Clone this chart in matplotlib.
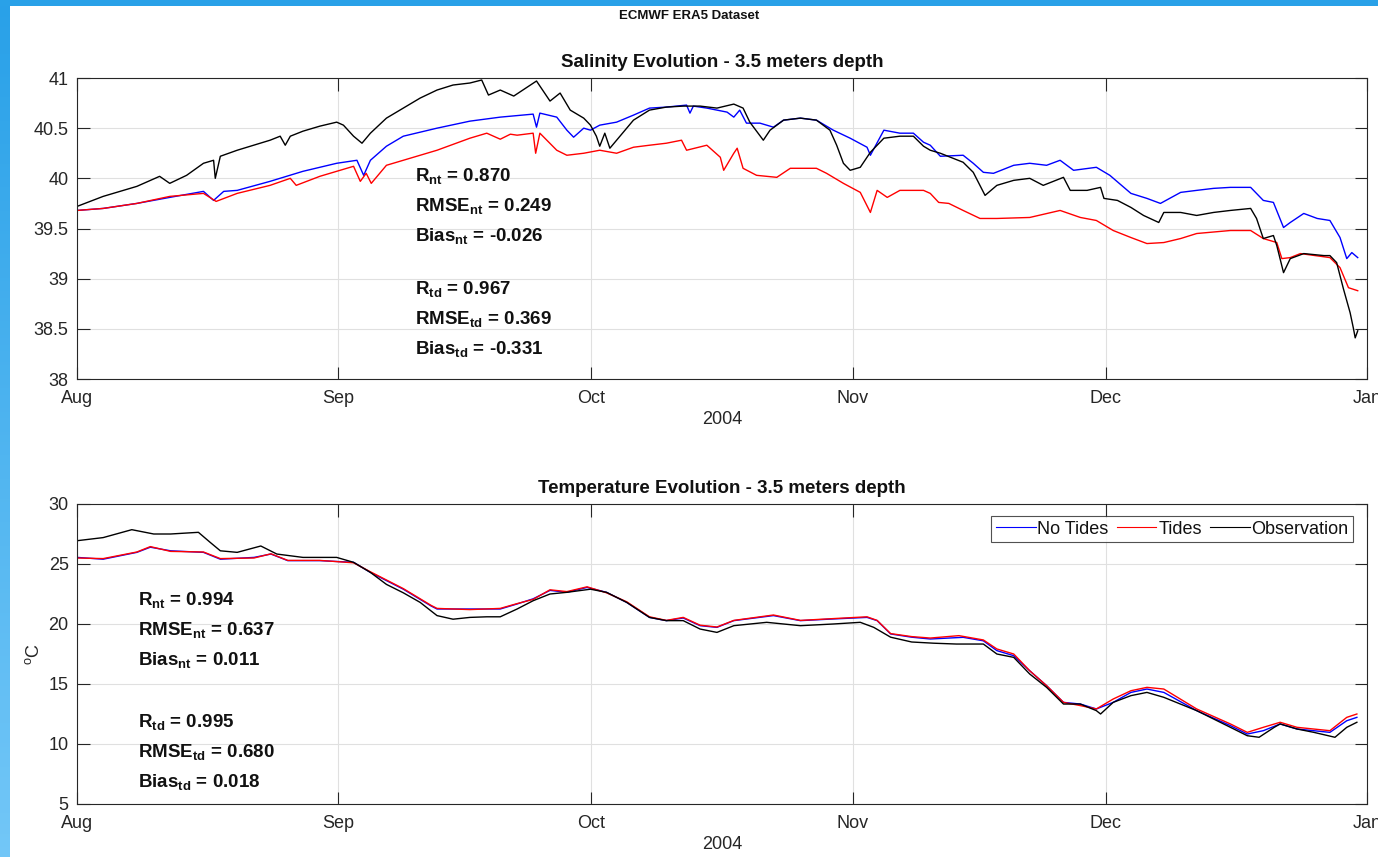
import matplotlib
matplotlib.use("Agg")
import matplotlib.pyplot as plt
import matplotlib.dates as mdates
import numpy as np
from datetime import datetime

# ---------------- data (days since 2004-08-01, value) ----------------
sal_obs_day = [0, 3.1, 7.1, 9.8, 11, 13, 15, 16.2, 16.4, 17, 19, 22.9, 24.1, 24.7, 25.3,
               26.8, 28.8, 30.8, 31.6, 32.8, 33.8, 34.8, 36.7, 38.7, 40.7, 42.7, 44.6,
               46.6, 48, 48.8, 50.2, 51.8, 54.5, 56.1, 57.3, 58.5, 60.1, 60.9, 61.6, 62,
               62.6, 63.2, 64.4, 66, 67.9, 69.9, 71.9, 73.9, 75.9, 77.9, 79, 79.8, 80.6,
               81.4, 82.2, 83.8, 85.8, 87.7, 89.3, 90.1, 90.9, 91.7, 92.9, 94.1, 95.7,
               97.6, 99.2, 100.4, 101.2, 102.4, 105.1, 106.3, 107.7, 109.1, 111.1, 113,
               114.6, 117, 117.8, 119.8, 121.4, 121.8, 123.4, 125, 126.5, 128.3, 128.9,
               130.9, 132.8, 134.8, 136.8, 139.2, 139.9, 140.7, 141.9, 142.3, 143.1,
               143.9, 145.5, 147.9, 148.6, 149.4, 150.2, 151, 151.4, 151.6, 151.9]
sal_obs = [39.72, 39.82, 39.92, 40.02, 39.95, 40.03, 40.15, 40.18, 40.00, 40.22, 40.28,
           40.38, 40.42, 40.33, 40.42, 40.47, 40.52, 40.56, 40.53, 40.42, 40.35, 40.45,
           40.60, 40.70, 40.80, 40.88, 40.93, 40.95, 40.98, 40.83, 40.88, 40.82, 40.97,
           40.77, 40.85, 40.68, 40.60, 40.53, 40.42, 40.32, 40.45, 40.30, 40.42, 40.58,
           40.68, 40.71, 40.72, 40.72, 40.70, 40.74, 40.70, 40.56, 40.47, 40.38, 40.48,
           40.58, 40.60, 40.58, 40.48, 40.33, 40.15, 40.08, 40.11, 40.26, 40.40, 40.42,
           40.42, 40.32, 40.28, 40.25, 40.16, 40.06, 39.83, 39.93, 39.98, 40.00, 39.93,
           40.01, 39.88, 39.88, 39.91, 39.80, 39.78, 39.71, 39.63, 39.56, 39.66, 39.66,
           39.63, 39.66, 39.68, 39.70, 39.60, 39.40, 39.43, 39.33, 39.06, 39.20, 39.25,
           39.23, 39.23, 39.16, 38.90, 38.66, 38.50, 38.41, 38.48]

sal_nt_day = [0, 3.1, 7.1, 11, 15, 16.2, 17.4, 19, 22.9, 26.8, 30.8, 33.2, 34, 34.8, 36.7,
              38.7, 42.7, 46.6, 50.2, 54.1, 54.5, 54.9, 56.9, 58.1, 58.9, 60.1, 60.9, 62,
              64, 66, 67.9, 69.9, 72.3, 72.7, 73.1, 74.7, 77.1, 77.9, 78.6, 79.4, 81,
              82.6, 83.8, 85.8, 87.7, 89.7, 91.7, 93.7, 94.1, 95.7, 97.6, 99.2, 100.4,
              101.2, 102.4, 105.1, 106.3, 107.5, 108.7, 111.1, 113, 115, 116.6, 118.2,
              120.9, 122.5, 125, 126.9, 128.5, 130.9, 132.8, 134.8, 136.8, 139.2, 140.7,
              141.9, 143.1, 143.9, 145.5, 147.1, 148.6, 149.8, 150.6, 151.2, 151.9]
sal_nt = [39.68, 39.70, 39.75, 39.81, 39.87, 39.78, 39.87, 39.88, 39.97, 40.07, 40.15,
          40.18, 40.03, 40.18, 40.32, 40.42, 40.50, 40.57, 40.61, 40.64, 40.51, 40.65,
          40.61, 40.48, 40.41, 40.50, 40.48, 40.53, 40.56, 40.63, 40.70, 40.71, 40.73,
          40.65, 40.72, 40.70, 40.66, 40.61, 40.68, 40.55, 40.55, 40.51, 40.58, 40.60,
          40.58, 40.48, 40.40, 40.31, 40.23, 40.48, 40.45, 40.45, 40.36, 40.33, 40.22,
          40.23, 40.15, 40.06, 40.05, 40.13, 40.15, 40.13, 40.18, 40.08, 40.11, 40.03,
          39.85, 39.80, 39.75, 39.86, 39.88, 39.90, 39.91, 39.91, 39.78, 39.76, 39.51,
          39.56, 39.65, 39.60, 39.58, 39.41, 39.20, 39.26, 39.21]

sal_td_day = [0, 3.1, 7.1, 11, 15, 16.5, 19, 22.9, 25.3, 26, 28.8, 32.8, 33.6, 34.3, 34.9,
              36.7, 38.7, 42.7, 46.6, 48.6, 50.2, 51.4, 52.2, 54.1, 54.4, 54.9, 56.9,
              58.1, 60.1, 62, 64, 66, 67.9, 69.9, 71.7, 72.3, 74.7, 76.3, 76.7, 77.9,
              78.3, 79, 80.6, 83, 84.6, 87.7, 88.9, 90.9, 92.9, 94.1, 94.9, 96.1, 97.6,
              100.4, 101.2, 102.2, 103.4, 105.1, 107.1, 109.1, 113, 116.6, 119, 120.9,
              122.9, 125, 126.9, 128.9, 130.9, 132.8, 136.8, 139.2, 140.7, 142.3, 142.9,
              143.9, 145.1, 148.6, 149.8, 150.8, 151.9]
sal_td = [39.68, 39.70, 39.75, 39.82, 39.85, 39.77, 39.85, 39.93, 40.00, 39.93, 40.02,
          40.12, 39.97, 40.05, 39.95, 40.13, 40.18, 40.28, 40.40, 40.45, 40.39, 40.44,
          40.43, 40.45, 40.25, 40.45, 40.28, 40.23, 40.25, 40.28, 40.25, 40.31, 40.33,
          40.35, 40.38, 40.28, 40.33, 40.21, 40.08, 40.25, 40.30, 40.10, 40.03, 40.01,
          40.10, 40.10, 40.05, 39.95, 39.86, 39.66, 39.88, 39.81, 39.88, 39.88, 39.85,
          39.76, 39.75, 39.68, 39.60, 39.60, 39.61, 39.68, 39.61, 39.58, 39.48, 39.41,
          39.35, 39.36, 39.40, 39.45, 39.48, 39.48, 39.40, 39.36, 39.20, 39.21, 39.25,
          39.21, 39.11, 38.91, 38.88]

tmp_obs_day = [0, 3.1, 6.5, 9.1, 11.1, 14.4, 15.8, 17, 19, 21.8, 23.7, 26.8, 30.8, 32.8,
               34.8, 36.7, 38.7, 40.7, 42.7, 44.6, 46.6, 48.6, 50.2, 52.2, 54.1, 56.1,
               58.1, 60.9, 62.8, 65.2, 67.9, 69.9, 71.9, 73.9, 75.9, 77.9, 81.8, 85.8,
               89.7, 92.9, 94.5, 96.5, 99, 101.6, 104.3, 107.5, 109.1, 111.1, 113, 115,
               117, 119, 120.9, 121.4, 122.9, 125, 126.9, 128.9, 132.8, 136.8, 138.8,
               140.2, 142, 142.7, 144.7, 146.7, 149.2, 150.6, 151.8]
tmp_obs = [26.94, 27.20, 27.86, 27.50, 27.50, 27.64, 26.80, 26.10, 25.97, 26.50, 25.83,
           25.55, 25.55, 25.14, 24.30, 23.30, 22.60, 21.80, 20.70, 20.40, 20.55, 20.60,
           20.60, 21.25, 21.94, 22.50, 22.64, 22.90, 22.64, 21.80, 20.55, 20.28, 20.28,
           19.58, 19.30, 19.86, 20.14, 19.86, 20.00, 20.14, 19.72, 18.90, 18.50, 18.40,
           18.33, 18.33, 17.50, 17.22, 15.83, 14.72, 13.33, 13.33, 12.78, 12.50, 13.47,
           14.03, 14.30, 13.89, 12.78, 11.39, 10.69, 10.56, 11.39, 11.67, 11.25, 10.97,
           10.56, 11.39, 11.81]

tmp_nt_day = [0, 3.1, 7.1, 8.7, 11.1, 15, 17, 21, 23, 25, 28.8, 32.8, 34.8, 38.7, 42,
              42.7, 46.6, 50.2, 52.2, 54.1, 56.1, 58.1, 60.5, 62.8, 65.2, 67.9, 69.9,
              71.9, 73.9, 75.9, 77.9, 82.6, 85.8, 89.7, 93.7, 94.9, 96.5, 99, 101.2,
              105.1, 107.5, 109.1, 111.1, 113, 115, 117, 119, 120.9, 122.9, 125, 126.9,
              128.9, 132.8, 136.8, 138.8, 140.7, 142.7, 144.7, 148.6, 150.6, 151.8]
tmp_nt = [25.55, 25.40, 25.97, 26.40, 26.10, 25.97, 25.40, 25.55, 25.83, 25.28, 25.28,
          25.14, 24.30, 22.90, 21.50, 21.25, 21.25, 21.25, 21.67, 22.10, 22.80, 22.64,
          23.05, 22.64, 21.80, 20.55, 20.28, 20.50, 19.86, 19.72, 20.28, 20.70, 20.28,
          20.42, 20.55, 20.28, 19.17, 18.90, 18.75, 18.89, 18.60, 17.78, 17.36, 16.10,
          14.86, 13.47, 13.33, 12.92, 13.47, 14.30, 14.58, 14.30, 12.78, 11.53, 10.83,
          11.11, 11.67, 11.25, 10.97, 11.94, 12.22]

tmp_td_day = [0, 3.1, 7.1, 8.7, 11.1, 15, 17, 21, 23, 25, 28.8, 32.8, 34.8, 38.7, 42,
              42.7, 46.6, 50.2, 52.2, 54.1, 56.1, 58.1, 60.5, 62.8, 65.2, 67.9, 69.9,
              71.9, 73.9, 75.9, 77.9, 82.6, 85.8, 89.7, 93.7, 94.9, 96.5, 99, 101.2,
              104.6, 107.5, 109.1, 111.1, 113, 115, 117, 119, 120.9, 122.9, 125, 126.9,
              128.9, 132.8, 136.8, 138.8, 140.7, 142.7, 144.7, 148.6, 150.6, 151.8]
tmp_td = [25.50, 25.45, 26.00, 26.45, 26.05, 26.00, 25.45, 25.50, 25.85, 25.30, 25.30,
          25.10, 24.35, 22.95, 21.55, 21.30, 21.20, 21.30, 21.70, 22.05, 22.85, 22.70,
          23.10, 22.60, 21.85, 20.60, 20.30, 20.55, 19.90, 19.75, 20.30, 20.75, 20.30,
          20.45, 20.60, 20.30, 19.20, 18.95, 18.83, 19.03, 18.67, 17.92, 17.50, 16.10,
          14.86, 13.47, 13.20, 12.92, 13.75, 14.44, 14.72, 14.58, 12.92, 11.67, 10.97,
          11.39, 11.81, 11.39, 11.11, 12.22, 12.50]

series_labels = ["No Tides", "Tides", "Observation"]
sal_stats = [("R", "nt", "0.870"), ("RMSE", "nt", "0.249"), ("Bias", "nt", "-0.026"),
             ("R", "td", "0.967"), ("RMSE", "td", "0.369"), ("Bias", "td", "-0.331")]
tmp_stats = [("R", "nt", "0.994"), ("RMSE", "nt", "0.637"), ("Bias", "nt", "0.011"),
             ("R", "td", "0.995"), ("RMSE", "td", "0.680"), ("Bias", "td", "0.018")]

# ---------------- styling ----------------
plt.rcParams["font.family"] = ["Liberation Sans", "DejaVu Sans"]
plt.rcParams["mathtext.fontset"] = "custom"
plt.rcParams["mathtext.rm"] = "Liberation Sans"
plt.rcParams["mathtext.bf"] = "Liberation Sans:bold"
TXT = "#262626"

W, H = 1378, 857
fig = plt.figure(figsize=(W / 100, H / 100), dpi=100)
fig.patch.set_facecolor("white")

# slide background strips
strip = fig.add_axes([0, 0, 10 / W, 1])
grad = np.linspace(0, 1, 256)[:, None]
top_c = np.array([0.16, 0.63, 0.91])
bot_c = np.array([0.45, 0.78, 0.97])
img = top_c[None, None, :] * (1 - grad[:, :, None]) + bot_c[None, None, :] * grad[:, :, None]
strip.imshow(img, aspect="auto", extent=[0, 1, 0, 1], origin="upper")
strip.axis("off")
topbar = fig.add_axes([0, 1 - 6 / H, 1, 6 / H])
topbar.set_facecolor((0.16, 0.63, 0.91))
topbar.set_xticks([])
topbar.set_yticks([])
for s in topbar.spines.values():
    s.set_visible(False)

t0 = mdates.date2num(datetime(2004, 8, 1))
t1 = mdates.date2num(datetime(2005, 1, 1))


def to_dates(days):
    return t0 + np.asarray(days, dtype=float)


def style_axes(ax, ylim, yticks):
    ax.set_xlim(t0, t1)
    ax.set_ylim(*ylim)
    ax.set_yticks(yticks)
    ax.xaxis.set_major_locator(mdates.MonthLocator())
    ax.xaxis.set_major_formatter(mdates.DateFormatter("%b"))
    ax.grid(True, color="#e0e0e0", linewidth=0.8)
    ax.set_axisbelow(True)
    ax.tick_params(which="both", direction="in", top=True, right=True, length=9,
                   width=0.8, color=TXT, labelcolor=TXT, labelsize=13)
    ax.tick_params(axis="x", pad=8)
    ax.tick_params(axis="y", pad=6)
    for s in ax.spines.values():
        s.set_color(TXT)
        s.set_linewidth(0.8)
    ax.set_xlabel("2004", fontsize=13, color=TXT, labelpad=3)


def stats_block(ax, stats, x, ys):
    for (name, sub, val), y in zip(stats, ys):
        ax.text(x, y, r"$\mathbf{%s_{%s}}$ = %s" % (name, sub, val), transform=ax.transAxes,
                fontsize=13.5, fontweight="bold", color="#111111", va="center", ha="left")


ax_left = 77 / W
ax_w = 1290 / W

# salinity panel
ax1 = fig.add_axes([ax_left, (H - 379) / H, ax_w, 301 / H])
ax1.plot(to_dates(sal_nt_day), sal_nt, color="#0000ff", lw=1.0, label=series_labels[0])
ax1.plot(to_dates(sal_td_day), sal_td, color="#ff0000", lw=1.0, label=series_labels[1])
ax1.plot(to_dates(sal_obs_day), sal_obs, color="#000000", lw=1.0, label=series_labels[2])
style_axes(ax1, (38, 41), [38, 38.5, 39, 39.5, 40, 40.5, 41])
ax1.set_yticklabels(["38", "38.5", "39", "39.5", "40", "40.5", "41"])
ax1.set_title("Salinity Evolution - 3.5 meters depth", fontsize=13.5, fontweight="bold",
              color="#111111", pad=8)
sal_rows = [180, 210, 240, 293, 323, 353]
stats_block(ax1, sal_stats, (415 - 77) / 1290, [(379 - y) / 301 + 0.012 for y in sal_rows])

# temperature panel
ax2 = fig.add_axes([ax_left, (H - 804) / H, ax_w, 300 / H])
ax2.plot(to_dates(tmp_nt_day), tmp_nt, color="#0000ff", lw=1.0, label=series_labels[0])
ax2.plot(to_dates(tmp_td_day), tmp_td, color="#ff0000", lw=1.0, label=series_labels[1])
ax2.plot(to_dates(tmp_obs_day), tmp_obs, color="#000000", lw=1.0, label=series_labels[2])
style_axes(ax2, (5, 30), [5, 10, 15, 20, 25, 30])
ax2.set_title("Temperature Evolution - 3.5 meters depth", fontsize=13.5, fontweight="bold",
              color="#111111", pad=8)
ax2.set_ylabel(r"$^{\mathrm{o}}$C", fontsize=13, color=TXT, labelpad=4)
tmp_rows = [604, 634, 664, 726, 756, 786]
stats_block(ax2, tmp_stats, (138 - 77) / 1290, [(804 - y) / 300 + 0.012 for y in tmp_rows])

leg = ax2.legend(loc="upper right", bbox_to_anchor=((1353 - 77) / 1290, (804 - 516) / 300),
                 borderaxespad=0, ncol=3, fontsize=13, frameon=True, fancybox=False,
                 handlelength=2.2, handletextpad=0.1, columnspacing=0.45, borderpad=0.25)
leg.get_frame().set_edgecolor(TXT)
leg.get_frame().set_linewidth(0.8)
for line in leg.get_lines():
    line.set_linewidth(0.8)
for t in leg.get_texts():
    t.set_color("#111111")

fig.text(0.5, 1 - 16 / H, "ECMWF ERA5 Dataset", ha="center", va="center", fontsize=9.5,
         fontweight="bold", color="#111111")

fig.savefig("out.png", dpi=100)
